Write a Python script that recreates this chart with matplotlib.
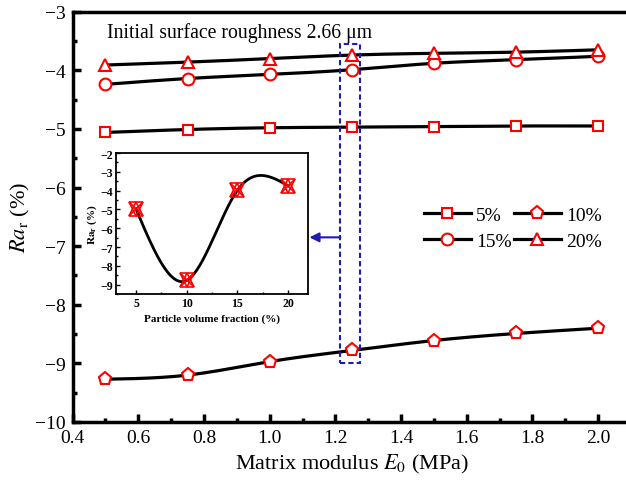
import numpy as np
import matplotlib
matplotlib.use("Agg")
import matplotlib.pyplot as plt
from matplotlib.patches import Rectangle
from matplotlib.ticker import MultipleLocator

plt.rcParams['font.family'] = ['Liberation Serif', 'DejaVu Serif']
plt.rcParams['mathtext.fontset'] = 'stix'

# ========== 数据 ==========
E0 = [0.5, 0.75, 1.0, 1.25, 1.5, 1.75, 2.0]
ra_5 = [-5.06, -5.01, -4.98, -4.97, -4.96, -4.95, -4.95]
ra_10 = [-9.27, -9.20, -8.97, -8.78, -8.61, -8.49, -8.40]
ra_15 = [-4.24, -4.14, -4.07, -3.99, -3.88, -3.82, -3.76]
ra_20 = [-3.91, -3.86, -3.80, -3.74, -3.71, -3.69, -3.65]
labels = ["5%", "10%", "15%", "20%"]
markers = ["s", "p", "o", "^"]
msizes = [7.5, 9.5, 8.5, 8.5]
fractions = [5, 10, 15, 20]
E0_pick = 1.25   # 小图取 E0 = 1.25 MPa 处的数据


def spline(x, y, n=300):
    # 自然三次样条，用来画平滑曲线
    x = np.asarray(x, float)
    y = np.asarray(y, float)
    k = len(x)
    h = np.diff(x)
    A = np.zeros((k, k))
    b = np.zeros(k)
    A[0, 0] = A[-1, -1] = 1
    for i in range(1, k - 1):
        A[i, i - 1] = h[i - 1]
        A[i, i] = 2 * (h[i - 1] + h[i])
        A[i, i + 1] = h[i]
        b[i] = 6 * ((y[i + 1] - y[i]) / h[i] - (y[i] - y[i - 1]) / h[i - 1])
    M = np.linalg.solve(A, b)
    xs = np.linspace(x[0], x[-1], n)
    idx = np.clip(np.searchsorted(x, xs) - 1, 0, k - 2)
    x0, x1 = x[idx], x[idx + 1]
    hh = x1 - x0
    t0, t1 = x1 - xs, xs - x0
    ys = (M[idx] * t0 ** 3 + M[idx + 1] * t1 ** 3) / (6 * hh) \
        + (y[idx] / hh - M[idx] * hh / 6) * t0 \
        + (y[idx + 1] / hh - M[idx + 1] * hh / 6) * t1
    return xs, ys


fig = plt.figure(figsize=(6.26, 4.81), dpi=100)
ax = fig.add_axes([0.116, 0.1206, 0.892, 0.853])

handles = []
for data, lab, mk, ms in zip([ra_5, ra_10, ra_15, ra_20], labels, markers, msizes):
    xs, ys = spline(E0, data)
    ax.plot(xs, ys, color="black", lw=2.3, zorder=2)
    ax.plot(E0, data, ls="none", marker=mk, ms=ms, mfc="white", mec="red",
            mew=1.5, zorder=3)
    h, = ax.plot([], [], color="black", lw=2.3, marker=mk, ms=ms,
                 mfc="white", mec="red", mew=1.5, label=lab)
    handles.append(h)

ax.set_xlim(0.4, 2.1)
ax.set_ylim(-10, -3)
ax.xaxis.set_minor_locator(MultipleLocator(0.1))
ax.yaxis.set_major_locator(MultipleLocator(1))
ax.yaxis.set_minor_locator(MultipleLocator(0.5))
ax.set_xticks(np.arange(0.4, 2.01, 0.2))
ax.set_xticklabels([f"{v:.1f}" for v in np.arange(0.4, 2.01, 0.2)])
ax.tick_params(which="major", direction="in", length=6, width=2.5,
               labelsize=14, pad=5)
ax.tick_params(which="minor", direction="in", length=3, width=2.5)
for s in ax.spines.values():
    s.set_linewidth(2.5)

ax.set_xlabel(r"Matrix modulus $E_0$ (MPa)", fontsize=16, labelpad=4)
ax.set_ylabel(r"$Ra_\mathrm{r}$ (%)", fontsize=16, labelpad=2)

ax.text(0.504, -3.35, "Initial surface roughness 2.66 μm", fontsize=14.2,
        va="center", ha="left")

# 图例：两列
ax.legend(handles=[handles[0], handles[2], handles[1], handles[3]], ncol=2,
          frameon=False, fontsize=14, loc="upper left",
          bbox_to_anchor=(0.629, 0.525), borderaxespad=0, borderpad=0,
          handlelength=2.4, handletextpad=0.3, columnspacing=0.1,
          labelspacing=0.4)

# 虚线框 + 箭头
ax.add_patch(Rectangle((1.215, -9.0), 0.06, 5.45, fill=False,
                       ec="#1c1cb0", lw=1.5, ls=(0, (2.5, 1.5)), zorder=4))
ax.annotate("", xy=(1.121, -6.85), xytext=(1.215, -6.85),
            arrowprops=dict(arrowstyle="-|>", color="#1c1cb0", lw=1.5,
                            mutation_scale=14, shrinkA=0, shrinkB=0))

# ========== 小图：E0 = 1.25 MPa 时不同颗粒体积分数 ==========
i = E0.index(E0_pick)
frac_vals = [ra_5[i], ra_10[i], ra_15[i], ra_20[i]]
axin = fig.add_axes([0.1848, 0.3867, 0.3077, 0.2931])
xs, ys = spline(fractions, frac_vals)
axin.plot(xs, ys, color="black", lw=2)
for mk in ["x", "^", "v"]:
    axin.plot(fractions, frac_vals, ls="none", marker=mk, ms=9.5,
              mfc="none", mec="red", mew=1.2)
axin.set_xlim(3, 22)
axin.set_ylim(-9.5, -2)
axin.set_xticks(fractions)
axin.xaxis.set_minor_locator(MultipleLocator(2.5))
axin.yaxis.set_major_locator(MultipleLocator(1))
axin.yaxis.set_minor_locator(MultipleLocator(0.5))
axin.tick_params(which="major", direction="in", length=3, width=1,
                 labelsize=8.5, pad=2)
axin.tick_params(which="minor", direction="in", length=1.5, width=1)
for lab in axin.get_xticklabels() + axin.get_yticklabels():
    lab.set_fontweight("bold")
for s in axin.spines.values():
    s.set_linewidth(1.3)
axin.set_xlabel("Particle volume fraction (%)", fontsize=8,
                fontweight="bold", labelpad=3)
axin.set_ylabel(r"$\mathbf{Ra}_\mathbf{r}$ (%)", fontsize=8,
                fontweight="bold", labelpad=1)

fig.savefig("out.png", dpi=100)
